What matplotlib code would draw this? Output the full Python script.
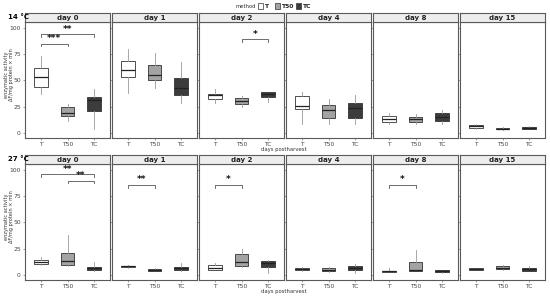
import matplotlib.pyplot as plt
from matplotlib.patches import Rectangle

days = ['day 0', 'day 1', 'day 2', 'day 4', 'day 8', 'day 15']
methods = ['T', 'T50', 'TC']
temps = ['14 °C', '27 °C']
fills = ['#FFFFFF', '#A3A3A3', '#3C3C3C']

# (low whisker, q1, median, q3, high whisker) per day
t14_T = [(36.5, 44, 53, 62, 73), (38, 52.7, 60, 68.5, 80), (28.5, 32, 36, 37, 42),
         (8, 23, 25.4, 34.6, 38.4), (8, 10, 12.7, 16, 19), (3.8, 4.8, 6, 7.3, 8.5)]
t14_T50 = [(11, 16, 18.4, 25, 27), (42.5, 50, 55, 65, 75.5), (25, 27, 30.5, 33, 35),
           (8, 13.7, 21.6, 26.7, 31.7), (8.5, 10, 12.7, 14.6, 17.5), (2.5, 3.2, 4, 4.8, 5.7)]
t14_TC = [(4, 21, 31, 34, 42), (28, 35.5, 43, 52, 67), (29, 33.6, 36.5, 38.5, 39),
          (8, 14, 24, 28, 36), (8, 11, 15, 19, 21.6), (3.2, 3.8, 4.8, 5.4, 6.3)]
t27_T = [(9, 10.7, 12.5, 14.4, 16.6), (6.9, 7.5, 8.2, 8.8, 9.4), (4.4, 5, 6, 9.4, 11.6),
         (3.4, 4.4, 5.6, 6.6, 7.5), (2.5, 2.8, 3.4, 4, 6), (4.1, 4.4, 5.6, 6.6, 6.9)]
t27_T50 = [(8.8, 9, 13, 21, 38), (3.1, 3.8, 4.7, 5.6, 6.3), (7.5, 8.2, 12.2, 20, 25),
           (2.5, 3.8, 5, 6.6, 7.8), (3.4, 3.4, 5, 12.2, 24), (4.7, 5.3, 6.9, 8.5, 9)]
t27_TC = [(4, 4.7, 6.6, 7.8, 12), (3.8, 4.7, 6.3, 7.8, 11), (1.3, 7.2, 11.3, 13.5, 14),
          (1.9, 4.7, 6.9, 8.5, 10.6), (1.3, 2.8, 4, 4.7, 5), (3.1, 3.8, 5.6, 6.9, 8.8)]
rows = [[t14_T, t14_T50, t14_TC], [t27_T, t27_T50, t27_TC]]

# (row, day, from, to, height, label)
brackets = [(0, 0, 0, 1, 85, '***'), (0, 0, 0, 2, 94, '**'), (0, 2, 1, 2, 89, '*'),
            (1, 0, 0, 2, 95.6, '**'), (1, 0, 1, 2, 89.7, '**'), (1, 1, 0, 1, 85.6, '**'),
            (1, 2, 0, 1, 85.6, '*'), (1, 4, 0, 1, 85.6, '*')]

W, H = 550, 297
fig = plt.figure(figsize=(W / 100, H / 100), dpi=100)
border = '#5A5A5A'

col_left = [25, 112, 199, 286, 373, 460]
pw = 85
row_top = [13, 155]  # strip top
sh = 9
ph = 116

axes = {}
for r in range(2):
    for c in range(6):
        x0 = col_left[c]
        y_panel_top = row_top[r] + sh
        ax = fig.add_axes([x0 / W, 1 - (y_panel_top + ph) / H, pw / W, ph / H])
        axes[(r, c)] = ax
        stats = []
        for m in range(3):
            lo, q1, med, q3, hi = rows[r][m][c]
            stats.append(dict(whislo=lo, q1=q1, med=med, q3=q3, whishi=hi, fliers=[]))
        bp = ax.bxp(stats, positions=[1, 2, 3], widths=0.5, patch_artist=True,
                    showcaps=False,
                    boxprops=dict(edgecolor='#333333', linewidth=0.6),
                    medianprops=dict(color='#222222', linewidth=0.9),
                    whiskerprops=dict(color='#999999', linewidth=0.6))
        for patch, f in zip(bp['boxes'], fills):
            patch.set_facecolor(f)
        ax.set_xlim(0.4, 3.6)
        ax.set_ylim(-5, 105.5)
        ax.set_xticks([1, 2, 3])
        ax.set_xticklabels(methods, fontsize=4.3, color='#444444')
        ax.set_yticks([0, 25, 50, 75, 100])
        if c == 0:
            ax.set_yticklabels(['0', '25', '50', '75', '100'], fontsize=4.3, color='#444444')
        else:
            ax.set_yticklabels([])
            ax.tick_params(axis='y', length=0)
        ax.tick_params(length=1.5, width=0.4, color='#555555', pad=1.5)
        for s in ax.spines.values():
            s.set_color(border)
            s.set_linewidth(0.8)
        # strip
        sax = fig.add_axes([x0 / W, 1 - (row_top[r] + sh) / H, pw / W, sh / H])
        sax.set_xticks([])
        sax.set_yticks([])
        sax.set_facecolor('#EDEDED')
        for s in sax.spines.values():
            s.set_color(border)
            s.set_linewidth(0.8)
        sax.text(0.5, 0.45, days[c], ha='center', va='center', fontsize=5,
                 fontweight='bold', color='#222222', transform=sax.transAxes)

for r, c, i, j, h, lab in brackets:
    ax = axes[(r, c)]
    x1, x2 = i + 1, j + 1
    ax.plot([x1, x1, x2, x2], [h - 2.5, h, h, h - 2.5], color='#555555', linewidth=0.6)
    ax.text((x1 + x2) / 2, h + 0.5, lab, ha='center', va='bottom', fontsize=6.5,
            fontweight='bold', color='#111111')

for r in range(2):
    fig.text(8 / W, 1 - (row_top[r] + 4) / H, temps[r], fontsize=5, fontweight='bold',
             ha='left', va='center')
    yc = 1 - (row_top[r] + sh + ph / 2 - 5) / H
    fig.text(9 / W, yc, 'enzymatic activity\nΔF/mg protein × min', rotation=90,
             fontsize=3.6, color='#333333', ha='center', va='center', linespacing=1.0)
    fig.text(284 / W, 1 - (row_top[r] + sh + ph + 12) / H, 'days postharvest',
             fontsize=3.8, color='#333333', ha='center', va='center')

# legend
fig.text(236 / W, 1 - 6 / H, 'method', fontsize=3.8, ha='left', va='center', color='#333333')
lx = [258, 275, 296]
for k, m in enumerate(methods):
    fig.patches.append(Rectangle((lx[k] / W, 1 - 8.5 / H), 5 / W, 5 / H, transform=fig.transFigure,
                                 facecolor=fills[k], edgecolor='#333333', linewidth=0.5))
    fig.text((lx[k] + 7) / W, 1 - 6 / H, m, fontsize=4.3, fontweight='bold', ha='left',
             va='center', color='#222222')

fig.savefig('out.png', dpi=100)
